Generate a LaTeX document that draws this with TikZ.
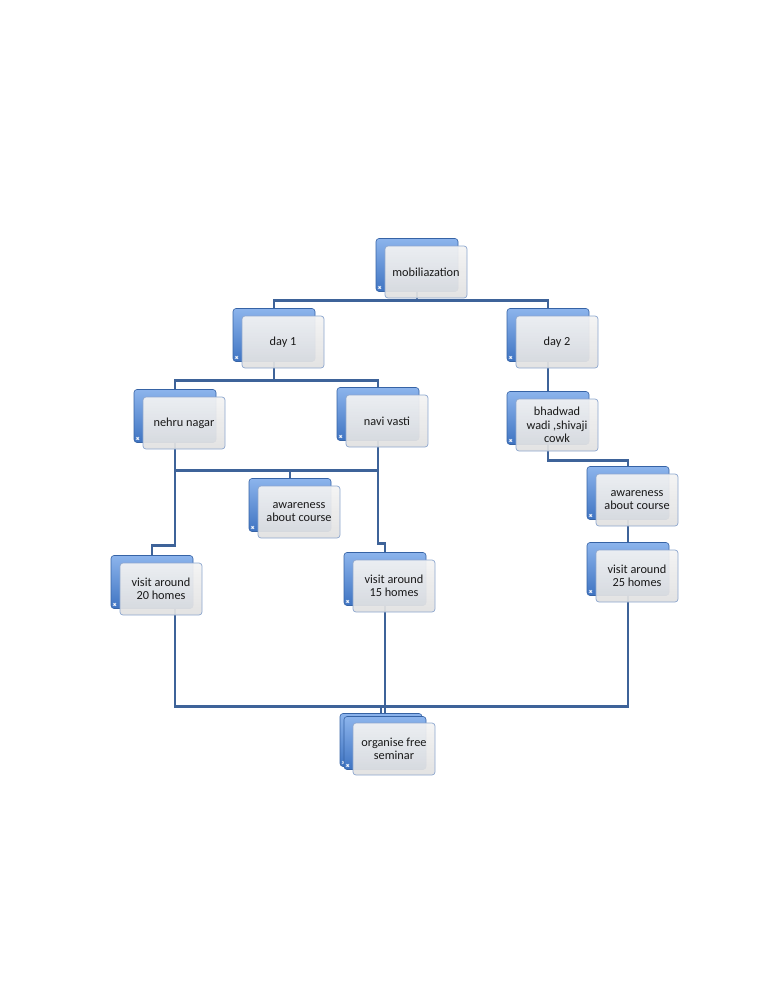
\documentclass[tikz,border=0pt]{standalone}
\usepackage{fontspec}
\setmainfont{Carlito}
\usepackage{tikz}
\usetikzlibrary{backgrounds}
\definecolor{linkblue}{HTML}{3E6399}
\definecolor{backblue}{HTML}{3F74C2}
\definecolor{backtop}{HTML}{8CB4EC}
\definecolor{frontedge}{HTML}{8CA6CE}

\begin{document}
\begin{tikzpicture}[x=1pt, y=-1pt,
  backbox/.style={rectangle, rounded corners=3pt, minimum width=82pt, minimum height=53pt,
    draw=backblue!85!black, line width=0.6pt, top color=backtop, middle color=backblue!85, bottom color=backblue,
    path picture={\fill[white] ([shift={(2.5pt,3pt)}]path picture bounding box.south west) rectangle ++(2.2pt,2.2pt);}},
  frontbox/.style={rectangle, rounded corners=3pt, minimum width=82pt, minimum height=52pt,
    draw=frontedge, line width=0.7pt, top color=gray!9, bottom color=gray!24, fill opacity=0.93,
    text opacity=1, text=black!90, align=center, font=\fontsize{12.3}{13.5}\selectfont},
  link/.style={draw=linkblue, line width=2.8pt}]
\useasboundingbox (0,0) rectangle (768,994);

%top
\node[backbox] (mob) at (417,265) {};
\node[frontbox] (mob-f) at (426,272) {mobiliazation};

%days
\node[backbox] (day1) at (274,335) {};
\node[frontbox] (day1-f) at (283,342) {day 1};
\node[backbox] (day2) at (548,335) {};
\node[frontbox] (day2-f) at (557,342) {day 2};

%places
\node[backbox] (nehru) at (175,416) {};
\node[frontbox] (nehru-f) at (184,423) {nehru nagar};
\node[backbox] (navi) at (378,414) {};
\node[frontbox] (navi-f) at (387,421) {navi vasti};
\node[backbox] (bhad) at (548,418) {};
\node[frontbox] (bhad-f) at (557,425) {bhadwad\\wadi ,shivaji\\cowk};

%awareness
\node[backbox] (aware1) at (290,505) {};
\node[frontbox] (aware1-f) at (299,512) {awareness\\about course};
\node[backbox] (aware2) at (628,493) {};
\node[frontbox] (aware2-f) at (637,500) {awareness\\about course};

%visits
\node[backbox] (visit20) at (152,582) {};
\node[frontbox] (visit20-f) at (161,589) {visit around\\20 homes};
\node[backbox] (visit15) at (385,579) {};
\node[frontbox] (visit15-f) at (394,586) {visit around\\15 homes};
\node[backbox] (visit25) at (628,569) {};
\node[frontbox] (visit25-f) at (637,576) {visit around\\25 homes};

%seminar
\node[backbox] (org0) at (381,740) {};
\node[backbox] (org) at (385,743) {};
\node[frontbox] (org-f) at (394,749) {organise free\\seminar};

\begin{pgfonlayer}{background}
\draw[link] (mob.south) -- ++(0,9) coordinate (b1);
\draw[link] (day1.north) |- (b1) -| (day2.north);

\draw[link] (nehru.north) -- ++(0,-9) coordinate (b2) -| (navi.north);
\draw[link] (day1.south) -- (day1.south |- b2);
\draw[link] (day2.south) -- (bhad.north);

\draw[link] (aware1.north) -- ++(0,-8) coordinate (b3);
\draw[link] (nehru.south) -- (nehru.south |- b3) -- (navi.south |- b3) -- (navi.south);

\draw[link] (visit20.north) -- ++(0,-10) coordinate (b4);
\draw[link] (nehru.south) |- (b4) -- (visit20.north);
\draw[link] (visit15.north) -- ++(0,-9) coordinate (b5);
\draw[link] (navi.south) |- (b5) -- (visit15.north);

\draw[link] (bhad.south) -- ++(0,16) -| (aware2.north);
\draw[link] (aware2.south) -- (visit25.north);

\draw[link] (org0.north) -- ++(0,-7) coordinate (b6);
\draw[link] (visit20.south -| nehru.south) |- (b6) -| (visit25.south);
\draw[link] (visit15.south) -- (visit15.south |- org.north);
\end{pgfonlayer}
\end{tikzpicture}
\end{document}
